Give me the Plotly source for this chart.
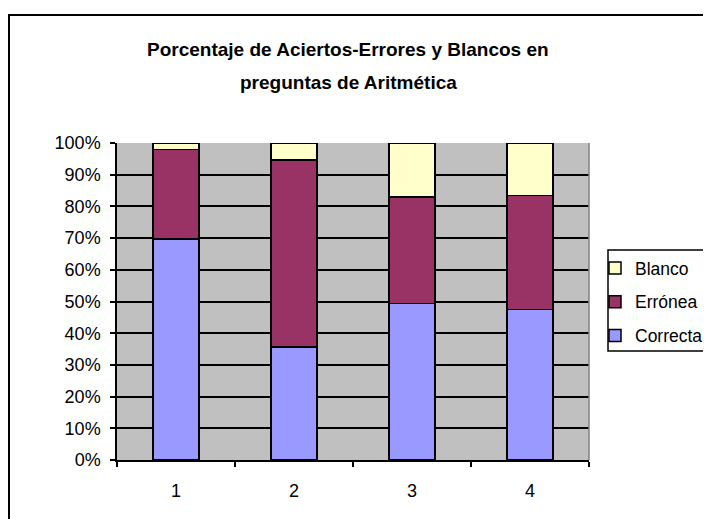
import plotly.graph_objects as go

categories = ["1", "2", "3", "4"]
correcta = [69.7, 35.6, 49.3, 47.4]
erronea = [28.2, 59.1, 33.6, 36.1]
blanco = [2.1, 5.3, 17.1, 16.5]
y_ticks = [0, 10, 20, 30, 40, 50, 60, 70, 80, 90, 100]
y_tick_labels = [f"{v}%" for v in y_ticks]

OFF = 8  # page body margin
W, H = 711 - OFF, 519 - OFF
L, T = 117 - OFF, 143 - OFF
pw, ph = 472, 317
R, B = W - L - pw, H - T - ph

fig = go.Figure()
series = [("Correcta", correcta, "#9999FF", 3),
          ("Errónea", erronea, "#993366", 2),
          ("Blanco", blanco, "#FFFFCC", 1)]
for name, vals, col, rank in series:
    fig.add_trace(go.Bar(x=categories, y=vals, name=name, legendgroup=name,
                         legendrank=rank,
                         marker=dict(color=col, line=dict(color="black", width=1.5)),
                         width=0.39))

def px_x(x):
    return (x - OFF - L) / pw

def px_y(y):
    return (T + ph - (y - OFF)) / ph

fig.update_layout(
    width=W, height=H,
    margin=dict(l=L, r=R, t=T, b=B, autoexpand=False),
    barmode="stack",
    paper_bgcolor="white",
    plot_bgcolor="#C0C0C0",
    font=dict(family="Liberation Sans, Arial, sans-serif", size=18, color="black"),
    showlegend=True,
    legend=dict(x=px_x(595), y=px_y(250), xanchor="left", yanchor="top",
                traceorder="grouped", tracegroupgap=8,
                borderwidth=0, bgcolor="rgba(0,0,0,0)",
                font=dict(size=17.5), itemclick=False),
    xaxis=dict(type="category", tickson="boundaries", ticks="outside", ticklen=5,
               tickcolor="black", tickwidth=1.5, showline=True, linecolor="black",
               linewidth=1.5, showgrid=False, ticklabelstandoff=14,
               range=[-0.5, 3.5]),
    yaxis=dict(range=[0, 100], tickvals=y_ticks, ticktext=y_tick_labels,
               ticks="outside", ticklen=5, tickcolor="black", tickwidth=1.5,
               showline=True, linecolor="black", linewidth=1.5,
               showgrid=True, gridcolor="black", gridwidth=1.5, zeroline=False,
               ticklabelstandoff=6),
    shapes=[
        dict(type="rect", xref="paper", yref="paper",
             x0=px_x(9), x1=px_x(760), y0=px_y(560), y1=px_y(15),
             line=dict(color="black", width=2), fillcolor="rgba(0,0,0,0)", layer="below"),
        dict(type="line", xref="paper", yref="paper", x0=1, x1=1, y0=0, y1=1,
             line=dict(color="#808080", width=1.5)),
        dict(type="rect", xref="paper", yref="paper",
             x0=px_x(608), x1=px_x(760), y0=px_y(351), y1=px_y(250),
             line=dict(color="black", width=1.5), fillcolor="white", layer="below"),
    ],
    annotations=[
        dict(text="<b>Porcentaje de Aciertos-Errores y Blancos en</b>", xref="paper", yref="paper",
             x=px_x(348), y=px_y(49), xanchor="center", yanchor="middle",
             showarrow=False, font=dict(size=19)),
        dict(text="<b>preguntas de Aritmética</b>", xref="paper", yref="paper",
             x=px_x(348), y=px_y(82), xanchor="center", yanchor="middle",
             showarrow=False, font=dict(size=19)),
    ],
)

fig.write_html("out.html")
